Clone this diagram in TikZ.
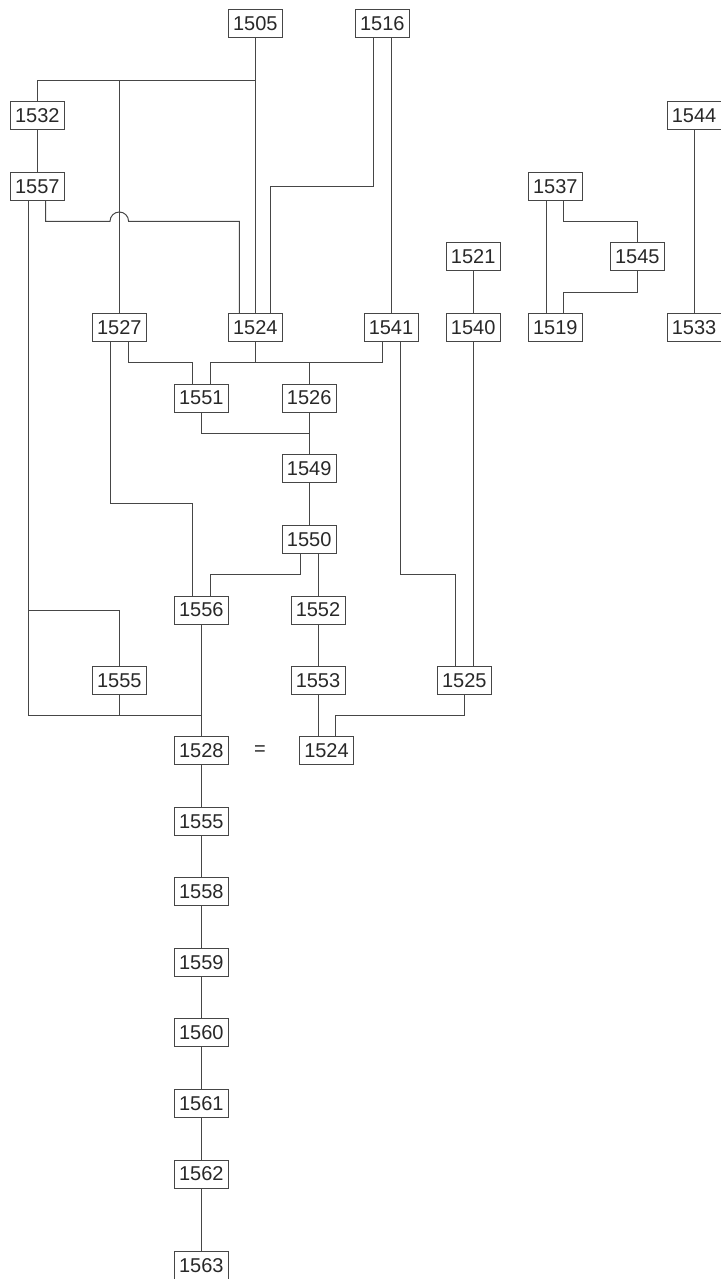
\documentclass[tikz,border=0pt]{standalone}
\usepackage{fontspec}
\setmainfont{Liberation Sans}
\definecolor{ln}{RGB}{70,70,70}
\definecolor{tx}{RGB}{40,40,40}
\begin{document}
\begin{tikzpicture}[x=0.5pt,y=-0.5pt,
  box/.style={draw=ln, line width=0.5pt, minimum width=27pt, minimum height=14pt, inner sep=0pt, text=tx, font=\fontsize{10}{12}\selectfont},
  conn/.style={draw=ln, line width=0.5pt}]
\useasboundingbox (0,0) rectangle (720,1279);
% nodes
\node[box] (n1505) at (255.3,24) {1505};
\node[box] (n1516) at (382.3,24) {1516};
\node[box] (n1532) at (37.3,116) {1532};
\node[box] (n1544) at (694,116) {1544};
\node[box] (n1557) at (37.3,186.5) {1557};
\node[box] (n1537) at (555.3,186.5) {1537};
\node[box] (n1521) at (473.2,256.8) {1521};
\node[box] (n1545) at (637.3,256.8) {1545};
\node[box] (n1527) at (119.3,327.7) {1527};
\node[box] (a1524) at (255.3,327.7) {1524};
\node[box] (n1541) at (391,327.7) {1541};
\node[box] (n1540) at (473.2,327.7) {1540};
\node[box] (n1519) at (555.3,327.7) {1519};
\node[box] (n1533) at (694,327.7) {1533};
\node[box] (n1551) at (201.3,398) {1551};
\node[box] (n1526) at (309.2,398) {1526};
\node[box] (n1549) at (309.2,468.7) {1549};
\node[box] (n1550) at (309.2,539.3) {1550};
\node[box] (n1556) at (201.3,610) {1556};
\node[box] (n1552) at (318,610) {1552};
\node[box] (a1555) at (119.3,680.3) {1555};
\node[box] (n1553) at (318,680.3) {1553};
\node[box] (n1525) at (464.3,680.3) {1525};
\node[box] (n1528) at (201.3,750.8) {1528};
\node[text=tx, font=\fontsize{10}{12}\selectfont, inner sep=0pt] (eq) at (260,750.8) {=};
\node[box] (b1524) at (326.5,750.8) {1524};
\node[box] (b1555) at (201.3,821.3) {1555};
\node[box] (n1558) at (201.3,891.8) {1558};
\node[box] (n1559) at (201.3,962.5) {1559};
\node[box] (n1560) at (201.3,1032.8) {1560};
\node[box] (n1561) at (201.3,1103.5) {1561};
\node[box] (n1562) at (201.3,1174) {1562};
\node[box] (n1563) at (201.3,1265.7) {1563};
% helper coordinates
\coordinate (j1) at (255.3,80.3);
\coordinate (k1) at (270.7,186.3);
\coordinate (h1) at (255.3,362.7);
\coordinate (h2) at (201.3,433.3);
\coordinate (h3) at (110.7,503.7);
\coordinate (h4) at (300.3,574.3);
\coordinate (h5) at (400,574.3);
\coordinate (j2) at (201.3,715.7);
\coordinate (h6) at (464.3,715.7);
\coordinate (g1) at (563.7,221.3);
\coordinate (g2) at (637.3,292.3);
% connectors
\draw[conn] (n1505.south) -- (a1524.north);
\draw[conn] (j1) -| (n1532.north);
\draw[conn] (j1 -| n1527.north) -- (n1527.north);
\draw[conn] ([xshift=-4.5pt]n1516.south) |- (k1) -- ([xshift=7.7pt]a1524.north);
\draw[conn] (n1541.north |- n1516.south) -- (n1541.north);
\draw[conn] (n1532.south) -- (n1557.north);
\draw[conn] ([xshift=4.2pt]n1557.south) |- (110,221.3)
   arc[start angle=180, end angle=0, radius=4.65pt] -- (239.3,221.3) -- ([xshift=-8pt]a1524.north);
\draw[conn] ([xshift=-4.3pt]n1557.south) |- (j2);
\draw[conn] ([xshift=-4.3pt]n1557.south |- n1556) -| (a1555.north);
\draw[conn] (a1555.south) -- (a1555.south |- j2);
\draw[conn] ([xshift=4.5pt]n1527.south) |- ([xshift=-4.3pt]n1551.north |- h1) -- ([xshift=-4.3pt]n1551.north);
\draw[conn] ([xshift=-4.3pt]n1527.south) |- ([xshift=-4.3pt]n1556.north |- h3) -- ([xshift=-4.3pt]n1556.north);
\draw[conn] (a1524.south) -- (h1);
\draw[conn] ([xshift=4.35pt]n1551.north) |- ([xshift=-4.35pt]n1541.south |- h1) -- ([xshift=-4.35pt]n1541.south);
\draw[conn] (n1526.north) -- (n1526.north |- h1);
\draw[conn] ([xshift=4.5pt]n1541.south) |- ([xshift=-4.3pt]n1525.north |- h5) -- ([xshift=-4.3pt]n1525.north);
\draw[conn] (n1540.south) -- (n1540.south |- n1525.north);
\draw[conn] (n1521.south) -- (n1540.north);
\draw[conn] (n1551.south) |- (n1526.south |- h2);
\draw[conn] (n1526.south) -- (n1549.north);
\draw[conn] (n1549.south) -- (n1550.north);
\draw[conn] ([xshift=-4.45pt]n1550.south) |- ([xshift=4.35pt]n1556.north |- h4) -- ([xshift=4.35pt]n1556.north);
\draw[conn] (n1552.north |- n1550.south) -- (n1552.north);
\draw[conn] (n1552.south) -- (n1553.north);
\draw[conn] (n1553.south) -- (n1553.south |- b1524.north);
\draw[conn] (n1525.south) |- ([xshift=4.6pt]b1524.north |- h6) -- ([xshift=4.6pt]b1524.north);
\draw[conn] (n1556.south) -- (n1528.north);
\draw[conn] (n1528.south) -- (b1555.north);
\draw[conn] (b1555.south) -- (n1558.north);
\draw[conn] (n1558.south) -- (n1559.north);
\draw[conn] (n1559.south) -- (n1560.north);
\draw[conn] (n1560.south) -- (n1561.north);
\draw[conn] (n1561.south) -- (n1562.north);
\draw[conn] (n1562.south) -- (n1563.north);
\draw[conn] ([xshift=-4.3pt]n1537.south) -- ([xshift=-4.3pt]n1519.north);
\draw[conn] ([xshift=4.2pt]n1537.south) |- (g1) -| (n1545.north);
\draw[conn] (n1545.south) |- ([xshift=4.2pt]n1519.north |- g2) -- ([xshift=4.2pt]n1519.north);
\draw[conn] (n1544.south) -- (n1533.north);
\end{tikzpicture}
\end{document}
